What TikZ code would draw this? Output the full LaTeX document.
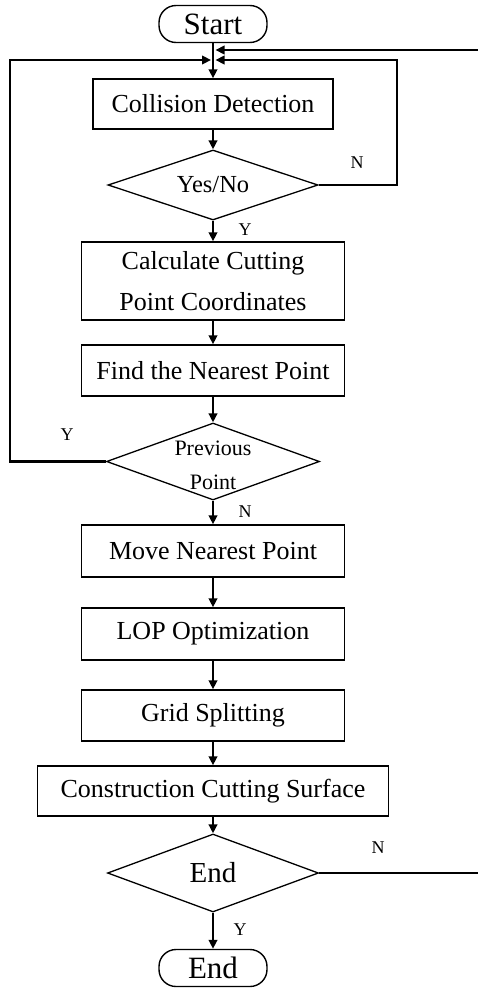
\documentclass[tikz,border=0pt]{standalone}
\usepackage{fontspec}
\setmainfont{Liberation Serif}
\usetikzlibrary{shapes.geometric,arrows.meta}
\begin{document}
\begin{tikzpicture}[x=1pt,y=-1pt,
  box/.style={draw,line width=1.4pt,minimum width=263pt,inner sep=0pt,
    font=\fontsize{26}{41}\selectfont,align=center},
  term/.style={draw,line width=1.4pt,rounded corners=17pt,minimum width=108pt,
    minimum height=37pt,inner sep=0pt,font=\fontsize{31}{31}\selectfont},
  dec/.style={draw,diamond,line width=1.3pt,inner sep=0pt},
  dectext/.style={inner sep=0pt,align=center},
  flow/.style={line width=2.4pt,-{Triangle[length=9pt,width=8.5pt]}},
  yn/.style={font=\fontsize{18}{20}\selectfont,inner sep=0pt}]
\useasboundingbox (0,0) rectangle (478,990);

% terminals
\node[term] (start) at (213,24) {Start};
\node[term] (stop) at (213,968) {End};

% process boxes
\node[box,minimum width=240pt,minimum height=50pt] (cd) at (213,104) {Collision Detection};
\node[box,minimum height=78pt] (calc) at (213,281) {Calculate Cutting\\Point Coordinates};
\node[box,minimum height=51pt] (find) at (213,370.5) {Find the Nearest Point};
\node[box,minimum height=52pt] (move) at (213,551) {Move Nearest Point};
\node[box,minimum height=52pt] (lop) at (213,634) {LOP Optimization};
\node[box,minimum height=51pt] (grid) at (213,715.5) {Grid Splitting};
\node[box,minimum width=351pt,minimum height=50pt] (surf) at (213,791) {Construction Cutting Surface};

% decisions
\node[dec,minimum width=210pt,minimum height=70pt] (q1) at (213,185) {};
\node[dectext,font=\fontsize{24.5}{30}\selectfont] (q1t) at (q1) {Yes/No};
\node[dec,minimum width=213pt,minimum height=77pt] (q2) at (213,461.5) {};
\node[dectext,font=\fontsize{22}{34}\selectfont] (q2t) at (213,465) {Previous\\Point};
\node[dec,minimum width=211pt,minimum height=78pt] (q3) at (213,873) {};
\node[dectext,font=\fontsize{29}{30}\selectfont] (q3t) at (q3) {End};

% main flow
\draw[flow] (start) -- (cd);
\draw[flow] (cd) -- (q1);
\draw[flow] (q1) -- (calc);
\draw[flow] (calc) -- (find);
\draw[flow] (find) -- (q2);
\draw[flow] (q2) -- (move);
\draw[flow] (move) -- (lop);
\draw[flow] (lop) -- (grid);
\draw[flow] (grid) -- (surf);
\draw[flow] (surf) -- (q3);
\draw[flow] (q3) -- (stop);

% feedback loops
\coordinate (lc) at (10,60);
\coordinate (lend) at (211,60);
\coordinate (rc) at (397,60);
\coordinate (rend) at (215.5,60);
\coordinate (oc) at (480,50);
\coordinate (oend) at (215.5,50);
\draw[flow] (q2.west) -| (lc) -- (lend);
\draw[flow] (q1.east) -| (rc) -- (rend);
\draw[flow] (q3.east) -| (oc) -- (oend);

% branch labels
\node[yn] (n1) at (357,163) {N};
\node[yn] (y1) at (245,230) {Y};
\node[yn] (y2) at (67,435) {Y};
\node[yn] (n2) at (245,512) {N};
\node[yn] (n3) at (378,848) {N};
\node[yn] (y3) at (240,930) {Y};
\end{tikzpicture}
\end{document}
